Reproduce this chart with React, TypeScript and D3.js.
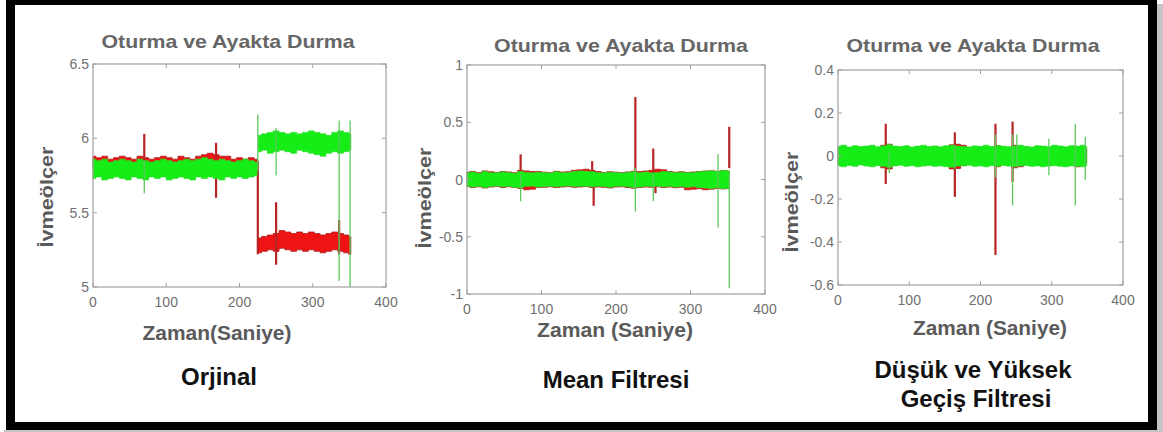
import React from "react";
import * as d3 from "d3";

// ---- data (envelopes of the noisy signals + spikes) ----

const xTicks = [0, 100, 200, 300, 400];

// Orjinal: the signal jumps at ~225 s, so it is kept in two pieces
const origTimesA = [0, 8, 16, 24, 32, 40, 48, 56, 64, 72, 80, 88, 96, 104, 112, 120, 128, 136, 144, 152, 160, 168, 176, 184, 192, 200, 208, 216, 224];
const origRedHiA = [5.88, 5.87, 5.88, 5.86, 5.87, 5.88, 5.87, 5.86, 5.88, 5.87, 5.86, 5.87, 5.88, 5.87, 5.86, 5.88, 5.87, 5.86, 5.88, 5.89, 5.9, 5.89, 5.88, 5.88, 5.86, 5.87, 5.86, 5.87, 5.86];
const origRedLoA = [5.8, 5.81, 5.8, 5.79, 5.8, 5.81, 5.8, 5.79, 5.8, 5.81, 5.8, 5.79, 5.8, 5.81, 5.8, 5.79, 5.8, 5.81, 5.8, 5.79, 5.8, 5.81, 5.8, 5.79, 5.8, 5.81, 5.8, 5.79, 5.8];
const origGreenHiA = [5.86, 5.85, 5.86, 5.84, 5.85, 5.86, 5.85, 5.84, 5.86, 5.85, 5.84, 5.85, 5.86, 5.85, 5.84, 5.85, 5.86, 5.85, 5.86, 5.87, 5.86, 5.85, 5.86, 5.85, 5.84, 5.85, 5.86, 5.85, 5.84];
const origGreenLoA = [5.73, 5.74, 5.72, 5.73, 5.74, 5.73, 5.72, 5.74, 5.73, 5.72, 5.74, 5.73, 5.74, 5.72, 5.73, 5.74, 5.73, 5.72, 5.74, 5.73, 5.74, 5.73, 5.72, 5.74, 5.73, 5.74, 5.73, 5.74, 5.75];

const origTimesB = [226, 234, 242, 250, 258, 266, 274, 282, 290, 298, 306, 314, 322, 330, 338, 346, 352];
const origRedHiB = [5.33, 5.34, 5.35, 5.36, 5.38, 5.37, 5.36, 5.37, 5.36, 5.37, 5.36, 5.35, 5.36, 5.37, 5.36, 5.35, 5.34];
const origRedLoB = [5.23, 5.24, 5.25, 5.24, 5.26, 5.25, 5.24, 5.25, 5.24, 5.25, 5.24, 5.23, 5.24, 5.25, 5.24, 5.23, 5.22];
const origGreenHiB = [6.02, 6.03, 6.04, 6.05, 6.04, 6.03, 6.04, 6.03, 6.04, 6.05, 6.04, 6.03, 6.02, 6.04, 6.05, 6.04, 6.03];
const origGreenLoB = [5.91, 5.92, 5.9, 5.91, 5.92, 5.91, 5.9, 5.92, 5.91, 5.9, 5.89, 5.88, 5.9, 5.91, 5.9, 5.91, 5.92];

// spikes: [time, low, high]
const origRedSpikes = [[70, 5.8, 6.03], [168, 5.6, 5.97], [225, 5.22, 5.85], [250, 5.15, 5.57], [336, 5.22, 5.45]];
const origGreenSpikes = [[70, 5.63, 5.85], [225, 5.78, 6.16], [250, 5.75, 6.07], [336, 5.04, 6.12], [351, 5.0, 6.12]];
const origYTicks = [5, 5.5, 6, 6.5];
const origYTickLabels = ["5", "5.5", "6", "6.5"];

// Mean Filtresi
const meanTimes = [0, 8, 16, 24, 32, 40, 48, 56, 64, 72, 80, 88, 96, 104, 112, 120, 128, 136, 144, 152, 160, 168, 176, 184, 192, 200, 208, 216, 224, 232, 240, 248, 256, 264, 272, 280, 288, 296, 304, 312, 320, 328, 336, 344, 352];
const meanRedHi = [0.065, 0.07, 0.06, 0.075, 0.068, 0.062, 0.07, 0.066, 0.06, 0.08, 0.075, 0.07, 0.07, 0.064, 0.06, 0.072, 0.066, 0.068, 0.08, 0.085, 0.09, 0.08, 0.07, 0.062, 0.068, 0.064, 0.06, 0.066, 0.072, 0.07, 0.075, 0.08, 0.09, 0.085, 0.07, 0.064, 0.068, 0.062, 0.066, 0.07, 0.074, 0.076, 0.072, 0.078, 0.075];
const meanRedLo = [-0.062, -0.07, -0.064, -0.074, -0.066, -0.06, -0.07, -0.064, -0.07, -0.078, -0.09, -0.085, -0.07, -0.068, -0.064, -0.07, -0.066, -0.062, -0.068, -0.066, -0.062, -0.07, -0.066, -0.068, -0.074, -0.066, -0.064, -0.07, -0.076, -0.07, -0.066, -0.068, -0.064, -0.07, -0.066, -0.072, -0.068, -0.09, -0.085, -0.08, -0.09, -0.085, -0.078, -0.082, -0.078];
const meanGreenHi = [0.06, 0.065, 0.055, 0.07, 0.06, 0.058, 0.066, 0.06, 0.055, 0.07, 0.062, 0.058, 0.064, 0.06, 0.056, 0.068, 0.06, 0.062, 0.07, 0.075, 0.072, 0.068, 0.06, 0.058, 0.064, 0.06, 0.056, 0.062, 0.068, 0.06, 0.065, 0.058, 0.062, 0.07, 0.066, 0.06, 0.064, 0.058, 0.062, 0.068, 0.072, 0.075, 0.07, 0.078, 0.074];
const meanGreenLo = [-0.058, -0.065, -0.06, -0.07, -0.062, -0.056, -0.064, -0.06, -0.068, -0.072, -0.06, -0.058, -0.066, -0.062, -0.058, -0.064, -0.06, -0.056, -0.062, -0.06, -0.058, -0.064, -0.06, -0.062, -0.068, -0.06, -0.058, -0.064, -0.07, -0.066, -0.06, -0.062, -0.058, -0.064, -0.06, -0.066, -0.062, -0.068, -0.064, -0.07, -0.074, -0.078, -0.072, -0.08, -0.076];
const meanRedSpikes = [[72, -0.02, 0.22], [168, 0.0, 0.16], [170, -0.23, 0.0], [226, -0.05, 0.72], [250, -0.05, 0.27], [253, -0.12, 0.0], [352, 0.1, 0.46]];
const meanGreenSpikes = [[72, -0.19, 0.05], [226, -0.28, 0.1], [250, -0.19, 0.05], [337, -0.42, 0.22], [352, -0.95, 0.05]];
const meanYTicks = [-1, -0.5, 0, 0.5, 1];
const meanYTickLabels = ["-1", "-0.5", "0", "0.5", "1"];

// Düşük ve Yüksek Geçiş Filtresi
const hpTimes = [0, 8, 16, 24, 32, 40, 48, 56, 64, 72, 80, 88, 96, 104, 112, 120, 128, 136, 144, 152, 160, 168, 176, 184, 192, 200, 208, 216, 224, 232, 240, 248, 256, 264, 272, 280, 288, 296, 304, 312, 320, 328, 336, 344, 349];
const hpRedHi = [0.035, 0.038, 0.034, 0.036, 0.035, 0.037, 0.034, 0.036, 0.05, 0.055, 0.04, 0.036, 0.035, 0.037, 0.034, 0.036, 0.038, 0.035, 0.037, 0.04, 0.052, 0.055, 0.05, 0.04, 0.036, 0.035, 0.037, 0.04, 0.048, 0.036, 0.035, 0.05, 0.045, 0.036, 0.034, 0.037, 0.035, 0.036, 0.038, 0.035, 0.034, 0.036, 0.037, 0.035, 0.036];
const hpRedLo = [-0.036, -0.034, -0.037, -0.035, -0.036, -0.034, -0.038, -0.035, -0.055, -0.06, -0.04, -0.036, -0.035, -0.037, -0.034, -0.036, -0.035, -0.037, -0.036, -0.035, -0.06, -0.058, -0.045, -0.036, -0.035, -0.037, -0.036, -0.034, -0.05, -0.035, -0.036, -0.055, -0.05, -0.036, -0.037, -0.035, -0.036, -0.037, -0.035, -0.036, -0.034, -0.035, -0.05, -0.036, -0.035];
const hpGreenHi = [0.045, 0.05, 0.042, 0.048, 0.044, 0.046, 0.05, 0.043, 0.047, 0.052, 0.046, 0.044, 0.048, 0.042, 0.046, 0.05, 0.044, 0.047, 0.043, 0.048, 0.05, 0.046, 0.044, 0.042, 0.047, 0.045, 0.05, 0.044, 0.048, 0.046, 0.043, 0.047, 0.05, 0.045, 0.042, 0.048, 0.046, 0.044, 0.05, 0.047, 0.043, 0.048, 0.046, 0.05, 0.045];
const hpGreenLo = [-0.046, -0.05, -0.044, -0.048, -0.042, -0.047, -0.05, -0.045, -0.048, -0.052, -0.046, -0.043, -0.048, -0.045, -0.05, -0.047, -0.044, -0.048, -0.046, -0.05, -0.052, -0.047, -0.045, -0.043, -0.048, -0.046, -0.05, -0.045, -0.048, -0.044, -0.047, -0.05, -0.046, -0.044, -0.048, -0.046, -0.05, -0.047, -0.045, -0.048, -0.05, -0.046, -0.048, -0.05, -0.047];
const hpRedSpikes = [[67, -0.13, 0.15], [164, -0.19, 0.11], [221, -0.46, 0.15], [245, -0.12, 0.16]];
const hpGreenSpikes = [[72, -0.08, 0.02], [164, -0.06, 0.05], [221, -0.1, 0.1], [245, -0.23, 0.1], [251, -0.05, 0.1], [296, -0.09, 0.08], [333, -0.23, 0.15], [347, -0.11, 0.09]];
const hpYTicks = [-0.6, -0.4, -0.2, 0, 0.2, 0.4];
const hpYTickLabels = ["-0.6", "-0.4", "-0.2", "0", "0.2", "0.4"];

const FONT = "'Liberation Sans', Arial, sans-serif";
const RED = "#ee1414";
const RED_EDGE = "#a81010";
const GREEN = "#16ec16";

const panels = [
  {
    left: 93, right: 386, top: 64, bottom: 287,
    yDomain: [5, 6.5], yTicks: origYTicks, yTickLabels: origYTickLabels,
    segments: [
      { t: origTimesA, rLo: origRedLoA, rHi: origRedHiA, gLo: origGreenLoA, gHi: origGreenHiA },
      { t: origTimesB, rLo: origRedLoB, rHi: origRedHiB, gLo: origGreenLoB, gHi: origGreenHiB },
    ],
    redSpikes: origRedSpikes, greenSpikes: origGreenSpikes,
    title: { x: 228, y: 48, w: 253 }, yLabel: { x: 47, y: 197 },
    xLabel: { text: "Zaman(Saniye)", x: 217, y: 340, w: 149 },
    caption: [{ text: "Orjinal", x: 219, y: 385 }],
  },
  {
    left: 467, right: 765, top: 65, bottom: 294,
    yDomain: [-1, 1], yTicks: meanYTicks, yTickLabels: meanYTickLabels,
    segments: [{ t: meanTimes, rLo: meanRedLo, rHi: meanRedHi, gLo: meanGreenLo, gHi: meanGreenHi }],
    redSpikes: meanRedSpikes, greenSpikes: meanGreenSpikes,
    title: { x: 621, y: 52, w: 254 }, yLabel: { x: 425, y: 198 },
    xLabel: { text: "Zaman (Saniye)", x: 615, y: 337, w: 156 },
    caption: [{ text: "Mean Filtresi", x: 616, y: 388 }],
  },
  {
    left: 838, right: 1123, top: 70, bottom: 285,
    yDomain: [-0.6, 0.4], yTicks: hpYTicks, yTickLabels: hpYTickLabels,
    segments: [{ t: hpTimes, rLo: hpRedLo, rHi: hpRedHi, gLo: hpGreenLo, gHi: hpGreenHi }],
    redSpikes: hpRedSpikes, greenSpikes: hpGreenSpikes,
    title: { x: 973, y: 52, w: 253 }, yLabel: { x: 792, y: 202 },
    xLabel: { text: "Zaman (Saniye)", x: 990, y: 335, w: 154 },
    caption: [
      { text: "Düşük ve Yüksek", x: 973, y: 378 },
      { text: "Geçiş Filtresi", x: 976, y: 407 },
    ],
  },
];

function Panel({ p }) {
  const x = d3.scaleLinear().domain([0, 400]).range([p.left, p.right]);
  const y = d3.scaleLinear().domain(p.yDomain).range([p.bottom, p.top]);

  // step curve gives the ragged, noisy edge of the dense signal
  const band = (times, lo, hi) =>
    d3
      .area<number>()
      .curve(d3.curveStep)
      .x((_, i) => x(times[i]))
      .y0((_, i) => y(lo[i]))
      .y1((_, i) => y(hi[i]))(times);

  const tickLen = 4;
  return (
    <g>
      <rect x={p.left} y={p.top} width={p.right - p.left} height={p.bottom - p.top} fill="#fff" />

      {/* red series */}
      {p.segments.map((s, i) => (
        <path key={"r" + i} d={band(s.t, s.rLo, s.rHi)} fill={RED} stroke={RED_EDGE} strokeWidth={0.7} />
      ))}
      {p.redSpikes.map((d, i) => (
        <line key={"rs" + i} x1={x(d[0])} x2={x(d[0])} y1={y(d[1])} y2={y(d[2])} stroke="#b82424" strokeWidth={2.2} />
      ))}

      {/* green series */}
      {p.segments.map((s, i) => (
        <path key={"g" + i} d={band(s.t, s.gLo, s.gHi)} fill={GREEN} stroke="#2ade2a" strokeWidth={0.7} />
      ))}
      {p.greenSpikes.map((d, i) => (
        <line key={"gs" + i} x1={x(d[0])} x2={x(d[0])} y1={y(d[1])} y2={y(d[2])} stroke="#5cc85c" strokeWidth={1.3} />
      ))}

      <rect x={p.left} y={p.top} width={p.right - p.left} height={p.bottom - p.top} fill="none" stroke="#a0a0a0" strokeWidth={1.2} />

      {/* ticks, MATLAB style on all four sides */}
      {xTicks.map((t) => (
        <g key={"xt" + t}>
          <line x1={x(t)} x2={x(t)} y1={p.bottom} y2={p.bottom - tickLen} stroke="#a0a0a0" />
          <line x1={x(t)} x2={x(t)} y1={p.top} y2={p.top + tickLen} stroke="#a0a0a0" />
          <text x={x(t)} y={p.bottom + 20} textAnchor="middle" fontSize={14} fill="#707070" fontFamily={FONT}>
            {t}
          </text>
        </g>
      ))}
      {p.yTicks.map((t, i) => (
        <g key={"yt" + t}>
          <line x1={p.left} x2={p.left + tickLen} y1={y(t)} y2={y(t)} stroke="#a0a0a0" />
          <line x1={p.right} x2={p.right - tickLen} y1={y(t)} y2={y(t)} stroke="#a0a0a0" />
          <text x={p.left - 4} y={y(t) + 5} textAnchor="end" fontSize={14} fill="#707070" fontFamily={FONT}>
            {p.yTickLabels[i]}
          </text>
        </g>
      ))}

      {/* titles and labels */}
      <text x={p.title.x} y={p.title.y} textAnchor="middle" fontSize={19} fontWeight="bold" fill="#666"
        fontFamily={FONT} textLength={p.title.w} lengthAdjust="spacingAndGlyphs">
        Oturma ve Ayakta Durma
      </text>
      <text transform={`translate(${p.yLabel.x},${p.yLabel.y}) rotate(-90)`} textAnchor="middle" dy="0.36em"
        fontSize={18} fontWeight="bold" fill="#5a5a5a" fontFamily={FONT} textLength={101} lengthAdjust="spacingAndGlyphs">
        İvmeölçer
      </text>
      <text x={p.xLabel.x} y={p.xLabel.y} textAnchor="middle" fontSize={20} fontWeight="bold" fill="#5a5a5a"
        fontFamily={FONT} textLength={p.xLabel.w} lengthAdjust="spacingAndGlyphs">
        {p.xLabel.text}
      </text>
      {p.caption.map((c) => (
        <text key={c.text} x={c.x} y={c.y} textAnchor="middle" fontSize={24} fontWeight="bold" fill="#111" fontFamily={FONT}>
          {c.text}
        </text>
      ))}
    </g>
  );
}

export default function App() {
  return (
    <div style={{ position: "absolute", left: 0, top: 0 }}>
      <svg width={1163} height={432} style={{ display: "block" }}>
        <rect x={0} y={0} width={1163} height={432} fill="#fff" />
        {/* drop shadow of the frame */}
        <rect x={1157} y={4} width={6} height={428} fill="#c4c4c4" />
        <rect x={4} y={430} width={1159} height={2} fill="#c4c4c4" />
        {/* black frame */}
        <rect x={6} y={0} width={1151} height={5} fill="#000" />
        <rect x={6} y={422} width={1151} height={8} fill="#000" />
        <rect x={6} y={0} width={9} height={430} fill="#000" />
        <rect x={1148} y={0} width={9} height={430} fill="#000" />
        {panels.map((p, i) => (
          <Panel key={i} p={p} />
        ))}
      </svg>
    </div>
  );
}
